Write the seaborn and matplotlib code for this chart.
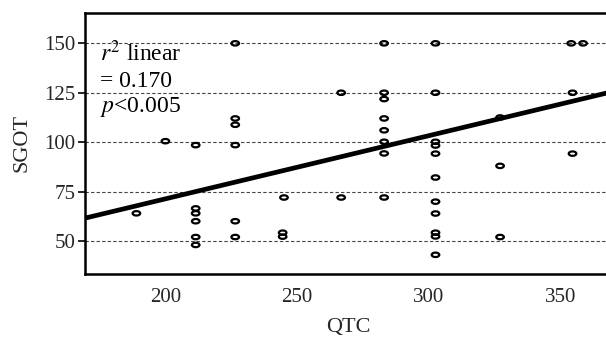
import numpy as np
import pandas as pd
import matplotlib
matplotlib.use("Agg")
import matplotlib.pyplot as plt
from matplotlib.path import Path
from matplotlib.transforms import Affine2D
import seaborn as sns

# ---- data ----
qtc = [189, 200, 211.5, 211.5, 211.5, 211.5, 211.5, 211.5,
       226.5, 226.5, 226.5, 226.5, 226.5, 226.5,
       245, 244.5, 244.5,
       266.7, 266.7,
       283, 283, 283, 283, 283, 283, 283, 283,
       302.5, 302.5, 302.5, 302.5, 302.5, 302.5, 302.5, 302.5, 302.5, 302.5, 302.5,
       327, 327, 327,
       354, 358.5, 354.5, 354.5]
sgot = [64, 100.5, 98.5, 66.5, 64, 60, 52, 48,
        150, 112, 108.8, 98.5, 60, 52,
        72, 54.2, 52.2,
        125, 72,
        150, 125, 121.8, 112, 106, 100.2, 94.3, 72,
        150, 125, 100.2, 98.3, 94.2, 82.1, 69.9, 63.9, 54.2, 52.3, 43,
        112.5, 88, 52,
        150, 150, 125, 94.2]
fit_slope = 0.3197
fit_intercept = 7.38
xticks = [200, 250, 300, 350]
yticks = [50, 75, 100, 125, 150]
annot_lines = [r"$r^2$ linear", "= 0.170", r"$p$<0.005"]

df = pd.DataFrame({"QTC": qtc, "SGOT": sgot})

sns.set_theme(style="white")
plt.rcParams["font.family"] = ["Liberation Serif", "DejaVu Serif"]
plt.rcParams["mathtext.fontset"] = "stix"

fig = plt.figure(figsize=(6.06, 3.41), dpi=100)
ax = fig.add_axes([84.5 / 606, 1 - 274 / 341, 1 - 84.5 / 606 + 0.01, (274 - 12.7) / 341])

xlim = (169.3, 369.5)
ylim = (33.3, 165.5)

# gridlines
for yv in yticks:
    ax.axhline(yv, color="#444444", lw=0.8, ls=(0, (3, 2)), zorder=1)

# ellipse marker
ell = Affine2D().scale(1.0, 0.58).transform_path(Path.unit_circle())
sns.scatterplot(data=df, x="QTC", y="SGOT", ax=ax, marker=ell, s=30,
                facecolors="none", edgecolor="black", linewidth=1.6,
                zorder=3, legend=False)

fit_df = pd.DataFrame({"x": list(xlim)})
fit_df["y"] = fit_intercept + fit_slope * fit_df["x"]
sns.lineplot(data=fit_df, x="x", y="y", ax=ax, color="black", lw=3.4, zorder=4)

ax.set_xlim(*xlim)
ax.set_ylim(*ylim)
ax.set_xticks(xticks)
ax.set_yticks(yticks)
ax.set_xlabel("QTC", fontsize=16, labelpad=8)
ax.set_ylabel("SGOT", fontsize=16, labelpad=9)
ax.tick_params(axis="x", length=0, pad=10, labelsize=15)
ax.tick_params(axis="y", length=5, width=1.2, pad=1.5, labelsize=15, left=True, color="black")

for side in ["left", "top", "bottom"]:
    ax.spines[side].set_color("black")
    ax.spines[side].set_linewidth(1.8)
ax.spines["right"].set_visible(False)

ys = [0.8125, 0.7168, 0.621]
for t, yv in zip(annot_lines, ys):
    ax.text(0.030, yv, t, transform=ax.transAxes, fontsize=17, va="baseline",
            ha="left", color="black", zorder=5)

fig.savefig("out.png", dpi=100)
